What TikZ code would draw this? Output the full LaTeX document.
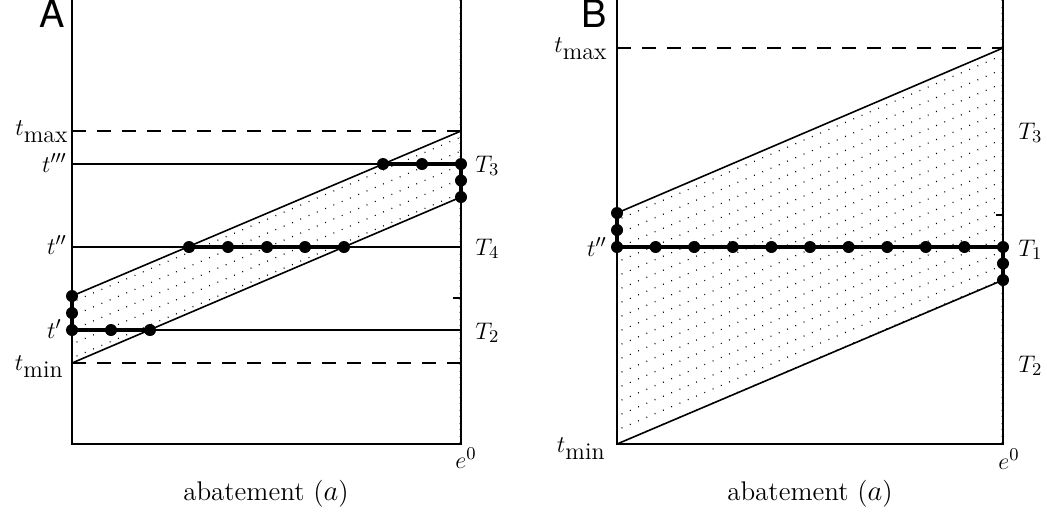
\documentclass[tikz,border=0pt]{standalone}
\usepackage{fontspec}
\newfontfamily\panelfont{TeX Gyre Heros}
\newcommand\lowsub[1]{\raisebox{-3.5pt}{\fontsize{12}{13}\selectfont #1}}
\begin{document}
\begin{tikzpicture}[x=0.5pt,y=-0.5pt,
  font=\fontsize{13}{15}\selectfont,
  axisline/.style={line width=0.8pt},
  thinline/.style={line width=0.8pt},
  dashline/.style={line width=0.8pt,dash pattern=on 7pt off 5.5pt},
  thickline/.style={line width=2pt},
  hatch/.style={line width=0.6pt,dash pattern=on 0.45pt off 4.05pt},
  minor/.style={line width=0.4pt,dash pattern=on 0.3pt off 2.95pt,gray!70},
  dot/.style={circle,fill=black,inner sep=0pt,minimum size=6pt},
  lab/.style={inner sep=0pt},
  xlab/.style={inner sep=0pt,font=\fontsize{13.5}{15}\selectfont},
  panel/.style={inner sep=0pt,font=\panelfont\fontsize{19}{19}\selectfont}]
\useasboundingbox (0,0) rectangle (1047,511);

% ---------------- Panel A ----------------
\coordinate (AL0) at (72,0);
\coordinate (AL1) at (72,444);
\coordinate (AR0) at (461,0);
\coordinate (AR1) at (461,444);
\begin{scope}
  \clip (72,296) -- (461,131) -- (461,197) -- (72,363) -- cycle;
  \foreach \o in {6,20,34,48,62} {
    \draw[hatch] (60,{301.1+\o}) -- (470,{127.2+\o});
  }
\end{scope}
\draw[minor] (459.6,0) -- (459.6,444);
\draw[axisline] (AL0) -- (AL1) -- (AR1) -- (AR0);
\coordinate (AtmaxL) at (72,131);
\coordinate (AtmaxR) at (461,131);
\coordinate (AtminL) at (72,363);
\coordinate (AtminR) at (461,363);
\draw[dashline] (AtmaxL) -- (AtmaxR);
\draw[dashline] (AtminL) -- (AtminR);
\coordinate (A3L) at (72,164);
\coordinate (A3R) at (461,164);
\coordinate (A2L) at (72,247);
\coordinate (A2R) at (461,247);
\coordinate (A1L) at (72,330);
\coordinate (A1R) at (461,330);
\draw[thinline] (A3L) -- (A3R);
\draw[thinline] (A2L) -- (A2R);
\draw[thinline] (A1L) -- (A1R);
\coordinate (AU0) at (72,296);
\coordinate (AU1) at (461,131);
\coordinate (AD0) at (72,363);
\coordinate (AD1) at (461,197);
\draw[thinline] (AU0) -- (AU1);
\draw[thinline] (AD0) -- (AD1);
\coordinate (AtickL) at (453,298);
\coordinate (AtickR) at (461,298);
\draw[thinline] (AtickL) -- (AtickR);
% thick paths and dots
\node[dot] (a31) at (383,164) {};
\node[dot] (a32) at (422,164) {};
\node[dot] (a33) at (461,164) {};
\node[dot] (a34) at (461,180.5) {};
\node[dot] (a35) at (461,197) {};
\node[dot] (a21) at (189,247) {};
\node[dot] (a22) at (228,247) {};
\node[dot] (a23) at (267,247) {};
\node[dot] (a24) at (305,247) {};
\node[dot] (a25) at (344,247) {};
\node[dot] (a11) at (72,296) {};
\node[dot] (a12) at (72,313) {};
\node[dot] (a13) at (72,330) {};
\node[dot] (a14) at (111,330) {};
\node[dot] (a15) at (150,330) {};
\draw[thickline] (a31.center) -- (a33.center) -- (a35.center);
\draw[thickline] (a21.center) -- (a25.center);
\draw[thickline] (a11.center) -- (a13.center) -- (a15.center);
% labels
\node[panel,anchor=south east] (Apanel) at (65,28) {A};
\node[lab,anchor=base east] (Ltmax) at (68,135) {$t$\lowsub{max}};
\node[lab,anchor=base east] (Lt3) at (67,172) {$t'''$};
\node[lab,anchor=base east] (Lt2) at (67,254) {$t''$};
\node[lab,anchor=base east] (Lt1) at (62,338) {$t'$};
\node[lab,anchor=base east] (Ltmin) at (63,370) {$t$\lowsub{min}};
\node[lab,anchor=base west] (AT3) at (475,172) {$T_3$};
\node[lab,anchor=base west] (AT4) at (475,255) {$T_4$};
\node[lab,anchor=base west] (AT2) at (475,339) {$T_2$};
\node[lab] (Ae0) at (466,458) {$e^0$};
\node[xlab] (Axl) at (266,494) {abatement ($a$)};

% ---------------- Panel B ----------------
\coordinate (BL0) at (617,0);
\coordinate (BL1) at (617,444);
\coordinate (BR0) at (1003,0);
\coordinate (BR1) at (1003,444);
\begin{scope}
  \clip (617,213) -- (1003,48) -- (1003,280) -- (617,444) -- cycle;
  \foreach \k in {0,...,16} {
    \draw[hatch] (605,{218.1+7+14*\k}) -- (1015,{42.9+7+14*\k});
  }
\end{scope}
\draw[minor] (1001.6,0) -- (1001.6,444);
\draw[axisline] (BL0) -- (BL1) -- (BR1) -- (BR0);
\coordinate (BtmaxL) at (617,48);
\coordinate (BtmaxR) at (1003,48);
\draw[dashline] (BtmaxL) -- (BtmaxR);
\coordinate (BU0) at (617,213);
\coordinate (BU1) at (1003,48);
\coordinate (BD0) at (617,444);
\coordinate (BD1) at (1003,280);
\draw[thinline] (BU0) -- (BU1);
\draw[thinline] (BD0) -- (BD1);
\coordinate (BtickL) at (996,215);
\coordinate (BtickR) at (1003,215);
\draw[thinline] (BtickL) -- (BtickR);
\foreach \i/\x in {1/617,2/655.6,3/694.2,4/732.8,5/771.4,6/810,7/848.6,8/887.2,9/925.8,10/964.4,11/1003} {
  \node[dot] (b\i) at (\x,247) {};
}
\node[dot] (bl1) at (617,213) {};
\node[dot] (bl2) at (617,230) {};
\node[dot] (br1) at (1003,263.5) {};
\node[dot] (br2) at (1003,280) {};
\draw[thickline] (bl1.center) -- (b1.center) -- (b11.center) -- (br2.center);
% labels
\node[panel,anchor=south east] (Bpanel) at (607,28) {B};
\node[lab,anchor=base east] (BLtmax) at (607,52) {$t$\lowsub{max}};
\node[lab,anchor=base east] (BLt2) at (607,256) {$t''$};
\node[lab,anchor=base east] (BLtmin) at (605,452) {$t$\lowsub{min}};
\node[lab,anchor=base west] (BT3) at (1018,139) {$T_3$};
\node[lab,anchor=base west] (BT1) at (1018,256) {$T_1$};
\node[lab,anchor=base west] (BT2) at (1018,372) {$T_2$};
\node[lab] (Be0) at (1009,459) {$e^0$};
\node[xlab] (Bxl) at (810,494) {abatement ($a$)};
\end{tikzpicture}
\end{document}
